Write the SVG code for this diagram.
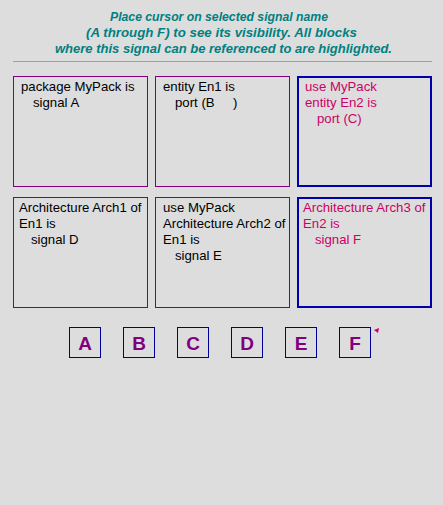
<svg xmlns="http://www.w3.org/2000/svg" width="443" height="505" viewBox="0 0 443 505">
<style>
.t{font-family:"Liberation Sans",Arial,sans-serif;font-size:13.2px;fill:#000}
.h{fill:#cc0066}
.title{font-family:"Liberation Sans",Arial,sans-serif;font-size:12.5px;font-weight:bold;font-style:italic;fill:#008080}
.box{fill:#dddddd;stroke:#800080;stroke-width:1}
.hbox{fill:#dddddd;stroke:#0000aa;stroke-width:2}
.btn{fill:#dddddd;stroke:#000099;stroke-width:1}
.bl{font-family:"Liberation Sans",Arial,sans-serif;font-size:19px;font-weight:bold;fill:#800080;text-anchor:middle}
</style>
<rect width="443" height="505" fill="#dddddd"/>
<g id="title">
<text class="title" x="110" y="21" textLength="218" lengthAdjust="spacingAndGlyphs">Place cursor on selected signal name</text>
<text class="title" x="86" y="37" textLength="271" lengthAdjust="spacingAndGlyphs">(A through F) to see its visibility. All blocks</text>
<text class="title" x="55" y="53" textLength="337" lengthAdjust="spacingAndGlyphs">where this signal can be referenced to are highlighted.</text>
<line x1="13" y1="61.5" x2="432" y2="61.5" stroke="#a0a0a0" stroke-width="1"/>
</g>
<g id="pkg">
<rect class="box" x="13.5" y="76.5" width="134" height="110"/>
<text class="t" x="21" y="91">package MyPack is</text>
<text class="t" x="33" y="107">signal A</text>
</g>
<g id="en1">
<rect class="box" x="155.5" y="76.5" width="134" height="110"/>
<text class="t" x="163" y="91">entity En1 is</text>
<text class="t" x="175" y="107" xml:space="preserve">port (B     )</text>
</g>
<g id="en2">
<rect class="hbox" x="298" y="77" width="133" height="109"/>
<text class="t h" x="305" y="91">use MyPack</text>
<text class="t h" x="305" y="107">entity En2 is</text>
<text class="t h" x="317" y="123">port (C)</text>
</g>
<g id="arch1">
<rect class="box" x="13.5" y="197.5" width="134" height="110"/>
<text class="t" x="19" y="212">Architecture Arch1 of</text>
<text class="t" x="19" y="228">En1 is</text>
<text class="t" x="31" y="244">signal D</text>
</g>
<g id="arch2">
<rect class="box" x="155.5" y="197.5" width="134" height="110"/>
<text class="t" x="163" y="212">use MyPack</text>
<text class="t" x="163" y="228">Architecture Arch2 of</text>
<text class="t" x="163" y="244">En1 is</text>
<text class="t" x="175" y="260">signal E</text>
</g>
<g id="arch3">
<rect class="hbox" x="298" y="198" width="133" height="109"/>
<text class="t h" x="303" y="212">Architecture Arch3 of</text>
<text class="t h" x="303" y="228">En2 is</text>
<text class="t h" x="315" y="244">signal F</text>
</g>
<g id="buttons">
<g id="btnA"><rect class="btn" x="69.5" y="327.5" width="31" height="30"/><text class="bl" x="85" y="350">A</text></g>
<g id="btnB"><rect class="btn" x="123.5" y="327.5" width="31" height="30"/><text class="bl" x="139" y="350">B</text></g>
<g id="btnC"><rect class="btn" x="177.5" y="327.5" width="31" height="30"/><text class="bl" x="193" y="350">C</text></g>
<g id="btnD"><rect class="btn" x="231.5" y="327.5" width="31" height="30"/><text class="bl" x="247" y="350">D</text></g>
<g id="btnE"><rect class="btn" x="285.5" y="327.5" width="31" height="30"/><text class="bl" x="301" y="350">E</text></g>
<g id="btnF"><rect class="btn" x="339.5" y="327.5" width="31" height="30"/><text class="bl" x="355" y="350">F</text></g>
</g>
<polygon points="379,328 374,330 378,333" fill="#cc0066"/>
</svg>
